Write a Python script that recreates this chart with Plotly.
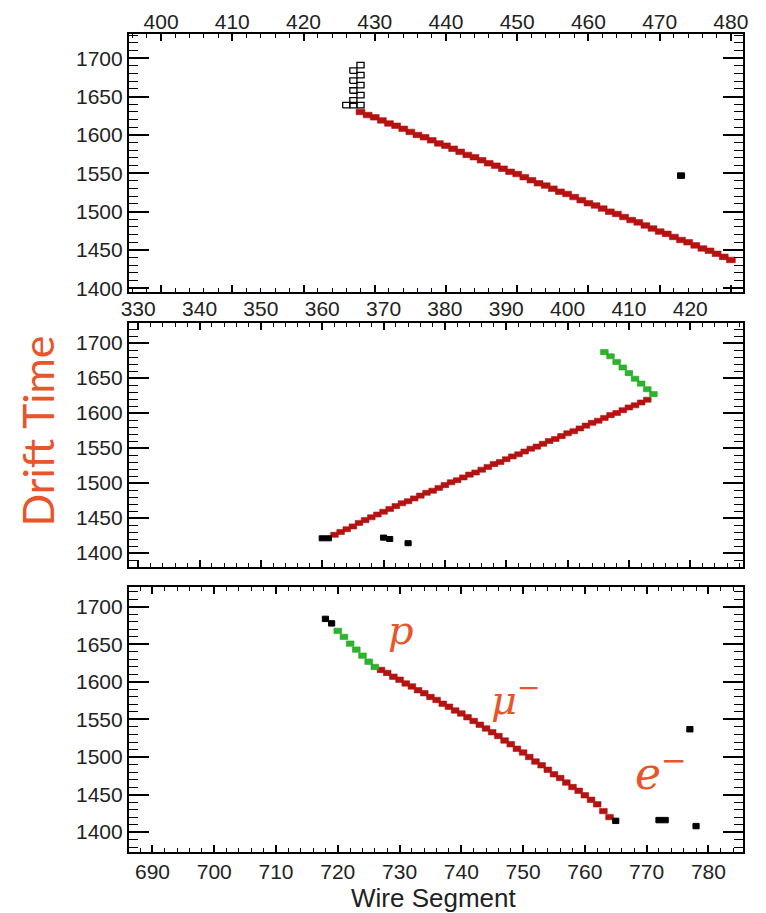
import plotly.graph_objects as go

# ---------------- data ----------------
# top panel
top_red_wire = [428, 429, 430, 431, 432, 433, 434, 435, 436, 437, 438, 439, 440, 441, 442, 443, 444, 445,
                446, 447, 448, 449, 450, 451, 452, 453, 454, 455, 456, 457, 458, 459, 460, 461, 462, 463,
                464, 465, 466, 467, 468, 469, 470, 471, 472, 473, 474, 475, 476, 477, 478, 479, 480]
top_red_time = [1630, 1626, 1623, 1619, 1615, 1612, 1608, 1604, 1600, 1597, 1593, 1589, 1586, 1582, 1578,
                1574, 1571, 1567, 1563, 1560, 1556, 1552, 1549, 1545, 1541, 1537, 1534, 1530, 1526, 1523,
                1519, 1515, 1511, 1508, 1504, 1500, 1497, 1493, 1489, 1486, 1482, 1478, 1474, 1471, 1467,
                1463, 1460, 1456, 1452, 1449, 1445, 1441, 1437]
top_col_wire = [428, 427, 428, 427, 428, 427, 428, 427, 428, 427, 426]
top_col_time = [1691, 1684, 1678, 1671, 1665, 1658, 1652, 1645, 1639, 1639, 1639]
top_blk_wire = [473]
top_blk_time = [1547]

# middle panel
mid_red_wire = [362, 363, 364, 365, 366, 367, 368, 369, 370, 371, 372, 373, 374, 375, 376, 377, 378, 379,
                380, 381, 382, 383, 384, 385, 386, 387, 388, 389, 390, 391, 392, 393, 394, 395, 396, 397,
                398, 399, 400, 401, 402, 403, 404, 405, 406, 407, 408, 409, 410, 411, 412, 413]
mid_red_time = [1426, 1430, 1434, 1438, 1443, 1447, 1451, 1455, 1459, 1463, 1467, 1471, 1474, 1478, 1482,
                1486, 1489, 1493, 1497, 1501, 1504, 1508, 1512, 1515, 1519, 1523, 1527, 1530, 1534, 1538,
                1541, 1545, 1549, 1552, 1556, 1560, 1563, 1567, 1571, 1574, 1578, 1582, 1586, 1589, 1593,
                1597, 1600, 1604, 1608, 1611, 1615, 1619]
mid_grn_wire = [406, 407, 408, 409, 410, 411, 412, 413, 414]
mid_grn_time = [1687, 1681, 1673, 1665, 1657, 1649, 1642, 1634, 1627]
mid_blk_wire = [360, 361, 370, 371, 374]
mid_blk_time = [1421, 1421, 1422, 1420, 1414]

# bottom panel
bot_red_wire = [727, 728, 729, 730, 731, 732, 733, 734, 735, 736, 737, 738, 739, 740, 741, 742, 743, 744,
                745, 746, 747, 748, 749, 750, 751, 752, 753, 754, 755, 756, 757, 758, 759, 760, 761, 762,
                763, 764]
bot_red_time = [1616, 1612, 1607, 1603, 1598, 1594, 1589, 1585, 1580, 1576, 1571, 1567, 1562, 1558, 1553,
                1548, 1543, 1538, 1533, 1528, 1522, 1517, 1511, 1506, 1500, 1494, 1489, 1483, 1477, 1472,
                1466, 1460, 1455, 1449, 1443, 1437, 1428, 1420]
bot_grn_wire = [720, 721, 722, 723, 724, 725, 726]
bot_grn_time = [1668, 1660, 1651, 1643, 1635, 1627, 1620]
bot_blk_wire = [718, 719, 765, 772, 773, 777, 778]
bot_blk_time = [1684, 1678, 1415, 1416, 1416, 1537, 1408]

x_ticks_top = [400, 410, 420, 430, 440, 450, 460, 470, 480]
x_ticks_mid = [330, 340, 350, 360, 370, 380, 390, 400, 410, 420]
x_ticks_bot = [690, 700, 710, 720, 730, 740, 750, 760, 770, 780]
y_ticks = [1400, 1450, 1500, 1550, 1600, 1650, 1700]

# ---------------- styling ----------------
HALF_H = 3.6
HALF_W = 0.62
RED_FILL, RED_LINE = "#B51212", "#B51212"
GRN_FILL, GRN_LINE = "#2CB52C", "#22A524"
ORANGE = "#E8552A"


def hit_boxes(wires, times, xa, ya, fill, line, lw=0.6, half_w=HALF_W):
    xs, ys = [], []
    for w, t in zip(wires, times):
        xs += [w - half_w, w + half_w, w + half_w, w - half_w, w - half_w, None]
        ys += [t - HALF_H, t - HALF_H, t + HALF_H, t + HALF_H, t - HALF_H, None]
    return go.Scatter(x=xs, y=ys, mode="lines", fill="toself", fillcolor=fill,
                      line=dict(color=line, width=lw), xaxis=xa, yaxis=ya,
                      hoverinfo="skip", showlegend=False)


fig = go.Figure()
fig.add_trace(hit_boxes(top_red_wire, top_red_time, "x", "y", RED_FILL, RED_LINE))
fig.add_trace(hit_boxes(top_col_wire, top_col_time, "x", "y", "white", "black", 1.3, 0.5))
fig.add_trace(hit_boxes(top_blk_wire, top_blk_time, "x", "y", "black", "black", 1.0, 0.5))
fig.add_trace(hit_boxes(mid_red_wire, mid_red_time, "x2", "y2", RED_FILL, RED_LINE))
fig.add_trace(hit_boxes(mid_grn_wire, mid_grn_time, "x2", "y2", GRN_FILL, GRN_LINE))
fig.add_trace(hit_boxes(mid_blk_wire, mid_blk_time, "x2", "y2", "black", "black", 1.0, 0.5))
fig.add_trace(hit_boxes(bot_red_wire, bot_red_time, "x3", "y3", RED_FILL, RED_LINE))
fig.add_trace(hit_boxes(bot_grn_wire, bot_grn_time, "x3", "y3", GRN_FILL, GRN_LINE))
fig.add_trace(hit_boxes(bot_blk_wire, bot_blk_time, "x3", "y3", "black", "black", 1.0, 0.5))

TICKFONT = dict(family="Liberation Sans, Arial, sans-serif", size=21, color="#222")


def xax(rng, ticks, side, anchor, standoff):
    return dict(range=rng, tickvals=ticks, side=side, anchor=anchor, automargin=False,
                ticklabelstandoff=standoff,
                ticks="inside", ticklen=7, tickwidth=1.5, tickcolor="black",
                minor=dict(dtick=2, tick0=0, ticks="inside", ticklen=3.5, tickwidth=1.2, tickcolor="black"),
                showline=True, linewidth=2.2, linecolor="black", mirror="allticks",
                showgrid=False, zeroline=False, tickfont=TICKFONT, fixedrange=True)


def yax(rng, dom, anchor):
    return dict(range=rng, domain=dom, tickvals=y_ticks, anchor=anchor, automargin=False,
                ticks="inside", ticklen=20, tickwidth=1.5, tickcolor="black",
                minor=dict(dtick=10, tick0=0, ticks="inside", ticklen=9, tickwidth=1.2, tickcolor="black"),
                showline=True, linewidth=2.2, linecolor="black", mirror="allticks",
                showgrid=False, zeroline=False, tickfont=TICKFONT, fixedrange=True)


fig.update_layout(
    width=758, height=905,
    margin=dict(l=121, r=23, t=26, b=61, autoexpand=False),
    paper_bgcolor="white", plot_bgcolor="white",
    showlegend=False,
    xaxis=xax([395.5, 481.7], x_ticks_top, "top", "y", -5),
    yaxis=yax([1395.2, 1731.7], [0.6846, 1.0], "x"),
    xaxis2=xax([328.5, 428.6], x_ticks_mid, "top", "y2", -4),
    yaxis2=yax([1380, 1728.6], [0.3484, 0.6467], "x2"),
    xaxis3=xax([686.2, 785.6], x_ticks_bot, "bottom", "y3", 0),
    yaxis3=yax([1373.5, 1726.5], [0.0, 0.324], "x3"),
)

ann_font = dict(family="DejaVu Serif, serif", size=40, color=ORANGE)
fig.add_annotation(text="<i>p</i>", xref="paper", yref="paper", x=0.443, y=0.2711,
                   xanchor="center", yanchor="middle", showarrow=False, font=ann_font)
fig.add_annotation(text="<i>μ</i><sup>−</sup>", xref="paper", yref="paper", x=0.6287, y=0.1892,
                   xanchor="center", yanchor="middle", showarrow=False, font=ann_font)
fig.add_annotation(text="<i>e</i><sup>−</sup>", xref="paper", yref="paper", x=0.8657, y=0.1001,
                   xanchor="center", yanchor="middle", showarrow=False,
                   font=dict(family="DejaVu Serif, serif", size=44, color=ORANGE))
fig.add_annotation(text="Drift Time", xref="paper", yref="paper", x=-0.149, y=0.5147,
                   xanchor="center", yanchor="middle", textangle=-90, showarrow=False,
                   font=dict(family="Lato, sans-serif", size=43, color=ORANGE))
fig.add_annotation(text="Wire Segment", xref="paper", yref="paper", x=0.4967, y=-0.0562,
                   xanchor="center", yanchor="middle", showarrow=False,
                   font=dict(family="Liberation Sans, Arial, sans-serif", size=26, color="#222"))

fig.write_html("out.html")
